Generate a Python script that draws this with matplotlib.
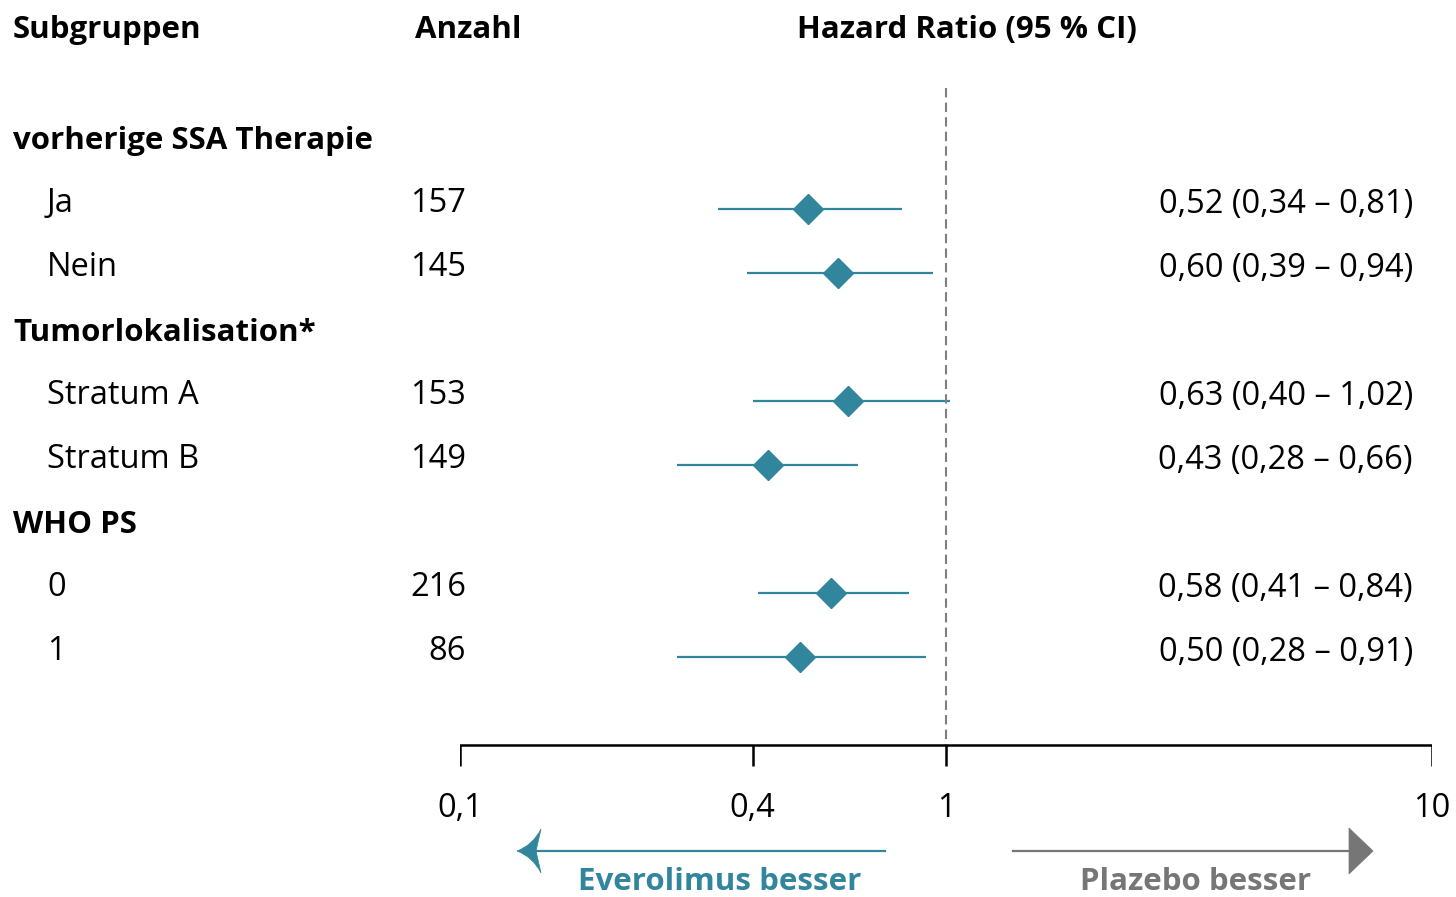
import matplotlib.pyplot as plt
from matplotlib.path import Path
from matplotlib.patches import PathPatch
from matplotlib.transforms import Affine2D

plt.rcParams['font.family'] = ['Open Sans', 'DejaVu Sans']

TEAL = '#31859c'
GREY = '#767676'
W, H = 1456, 897

# data
groups = ['vorherige SSA Therapie', 'Tumorlokalisation*', 'WHO PS']
subgroups = ['Ja', 'Nein', 'Stratum A', 'Stratum B', '0', '1']
group_of = [0, 0, 1, 1, 2, 2]
counts = [157, 145, 153, 149, 216, 86]
hr = [0.52, 0.60, 0.63, 0.43, 0.58, 0.50]
ci_low = [0.34, 0.39, 0.40, 0.28, 0.41, 0.28]
ci_high = [0.81, 0.94, 1.02, 0.66, 0.84, 0.91]
ticks = [0.1, 0.4, 1, 10]
tick_labels = ['0,1', '0,4', '1', '10']


def fmt(v):
    return f'{v:.2f}'.replace('.', ',')


fig = plt.figure(figsize=(W / 100, H / 100), dpi=100)
ax = fig.add_axes([460 / W, 0, (1432 - 460) / W, 1])
ax.set_xscale('log')
ax.set_xlim(0.1, 10)
ax.set_ylim(H, 0)
ax.axis('off')

# pixel transform, origin top left
pix = Affine2D().scale(1 / W, -1 / H).translate(0, 1) + fig.transFigure

FS = 23.5
FSB = 22.5
txt = dict(fontsize=FS, va='baseline', transform=pix)
bold = dict(fontsize=FSB, fontweight='bold', va='baseline', transform=pix)

fig.text(13, 38, 'Subgruppen', **bold)
fig.text(415, 38, 'Anzahl', **bold)
fig.text(797, 38, 'Hazard Ratio (95 % CI)', **bold)

# row layout
row0, step = 145, 64
k = 0
last_group = -1
for i, name in enumerate(subgroups):
    if group_of[i] != last_group:
        last_group = group_of[i]
        fig.text(13, row0 + step * k + 4, groups[last_group], **bold)
        k += 1
    y = row0 + step * k
    ax.plot([ci_low[i], ci_high[i]], [y, y], color=TEAL, lw=1.6, solid_capstyle='butt')
    ax.plot(hr[i], y, marker='D', ms=15, color=TEAL, mec=TEAL)
    fig.text(47, y + 3.5, name, **txt)
    fig.text(466, y + 3.5, str(counts[i]), ha='right', **txt)
    fig.text(1413, y + 3.5, f'{fmt(hr[i])} ({fmt(ci_low[i])} \u2013 {fmt(ci_high[i])})',
             ha='right', **txt)
    k += 1

# reference line and axis
ax.plot([1, 1], [88, 745], color='#7f7f7f', lw=1.5, dashes=(4.5, 2.5))
ax.plot([ticks[0], ticks[-1]], [745, 745], color='black', lw=1.8, solid_capstyle='projecting')
ax.vlines(ticks, 745, 766, color='black', lw=1.8)
for t, lab in zip(ticks, tick_labels):
    ax.text(t, 817, lab, ha='center', va='baseline', fontsize=FS)

# direction arrows
ax.plot([885, 536], [851, 851], color=TEAL, lw=1.6, transform=pix)
stealth = Path([(517, 851), (533, 845), (541, 829), (536, 851), (541, 873), (533, 857), (517, 851)],
               [Path.MOVETO, Path.CURVE3, Path.CURVE3, Path.LINETO, Path.LINETO,
                Path.CURVE3, Path.CURVE3])
ax.add_patch(PathPatch(stealth, fc=TEAL, ec=TEAL, lw=0.5, transform=pix))
ax.plot([1013, 1352], [851, 851], color=GREY, lw=1.6, transform=pix)
tri = Path([(1373, 851), (1349, 828), (1349, 874), (1373, 851)],
           [Path.MOVETO, Path.LINETO, Path.LINETO, Path.CLOSEPOLY])
ax.add_patch(PathPatch(tri, fc=GREY, ec=GREY, lw=0.5, transform=pix))

fig.text(720, 890, 'Everolimus besser', ha='center', color=TEAL, **bold)
fig.text(1196, 890, 'Plazebo besser', ha='center', color=GREY, **bold)

fig.savefig('out.png', dpi=100)
